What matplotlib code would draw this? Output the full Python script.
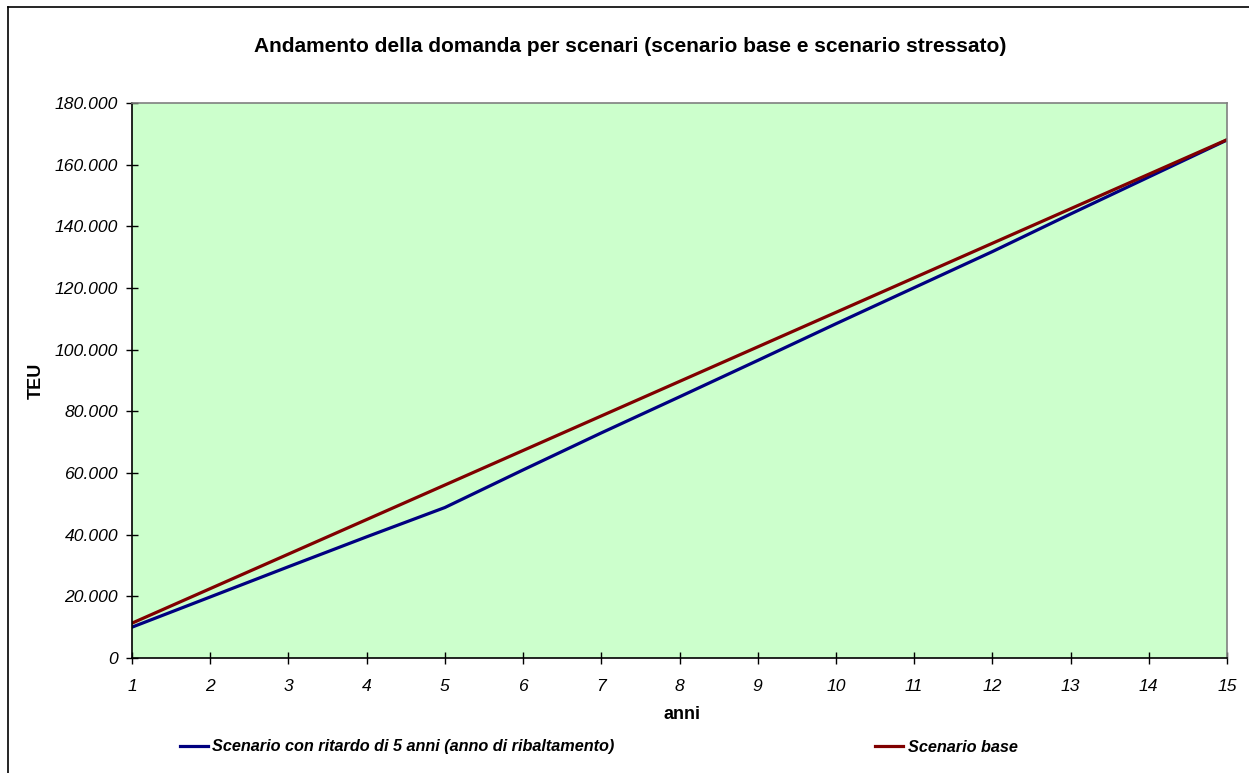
import matplotlib.pyplot as plt
from matplotlib.ticker import FuncFormatter, MultipleLocator
from matplotlib.lines import Line2D

plt.rcParams['font.family'] = ['Liberation Sans', 'DejaVu Sans']

# data
anni = list(range(1, 16))
scenario_ritardo = [10000, 19800, 29600, 39300, 48800, 61000, 73000, 84700,
                    96500, 108400, 120100, 131800, 144000, 156000, 168000]
scenario_base = [11300, 22500, 33700, 44900, 56100, 67300, 78500, 89700,
                 100900, 112100, 123300, 134500, 145700, 156900, 168100]

label_ritardo = 'Scenario con ritardo di 5 anni (anno di ribaltamento)'
label_base = 'Scenario base'
col_ritardo = '#000080'
col_base = '#800000'

fig = plt.figure(figsize=(12.49, 7.73), dpi=100)
ax = fig.add_axes([132 / 1249, 1 - 658 / 773, 1095 / 1249, 555 / 773])
ax.set_facecolor('#CCFFCC')

ax.plot(anni, scenario_ritardo, color=col_ritardo, linewidth=2.3)
ax.plot(anni, scenario_base, color=col_base, linewidth=2.3)

ax.set_xlim(1, 15)
ax.set_ylim(0, 180000)
ax.xaxis.set_major_locator(MultipleLocator(1))
ax.yaxis.set_major_locator(MultipleLocator(20000))
ax.yaxis.set_major_formatter(FuncFormatter(lambda v, p: f'{int(v):,}'.replace(',', '.')))

for lab in ax.get_xticklabels() + ax.get_yticklabels():
    lab.set_fontstyle('italic')
ax.tick_params(axis='both', direction='inout', length=8, width=1, labelsize=12.6, colors='black')
ax.tick_params(axis='x', pad=11)
ax.tick_params(axis='y', pad=6)

ax.spines['left'].set_color('black')
ax.spines['bottom'].set_color('black')
ax.spines['top'].set_color('#808080')
ax.spines['right'].set_color('#808080')
for s in ax.spines.values():
    s.set_linewidth(1.2)

ax.set_xlabel('anni', fontsize=13, fontweight='bold')
ax.xaxis.set_label_coords((682 - 132) / 1095, -(706 - 658) / 555)
ax.set_ylabel('TEU', fontsize=13, fontweight='bold')
ax.yaxis.set_label_coords(-(132 - 45) / 1095, 0.5)

fig.text(630 / 1249, 1 - 47 / 773, 'Andamento della domanda per scenari (scenario base e scenario stressato)',
         ha='center', va='center', fontsize=15, fontweight='bold')

# outer chart frame (left and top edges visible)
fig.add_artist(Line2D([8 / 1249, 8 / 1249], [0, 1 - 7 / 773], color='black', linewidth=1.2))
fig.add_artist(Line2D([8 / 1249, 1], [1 - 7 / 773, 1 - 7 / 773], color='black', linewidth=1.2))

leg_font = {'size': 11.7, 'weight': 'bold', 'style': 'italic'}
h1 = Line2D([], [], color=col_ritardo, linewidth=2.3)
h2 = Line2D([], [], color=col_base, linewidth=2.3)
fig.legend([h1], [label_ritardo], loc='center left', bbox_to_anchor=(180 / 1249, 1 - 747 / 773),
           frameon=False, prop=leg_font, handlelength=1.7, handletextpad=0.3,
           borderpad=0, borderaxespad=0)
fig.legend([h2], [label_base], loc='center left', bbox_to_anchor=(875 / 1249, 1 - 747 / 773),
           frameon=False, prop=leg_font, handlelength=1.7, handletextpad=0.3,
           borderpad=0, borderaxespad=0)

fig.savefig('out.png', dpi=100)
